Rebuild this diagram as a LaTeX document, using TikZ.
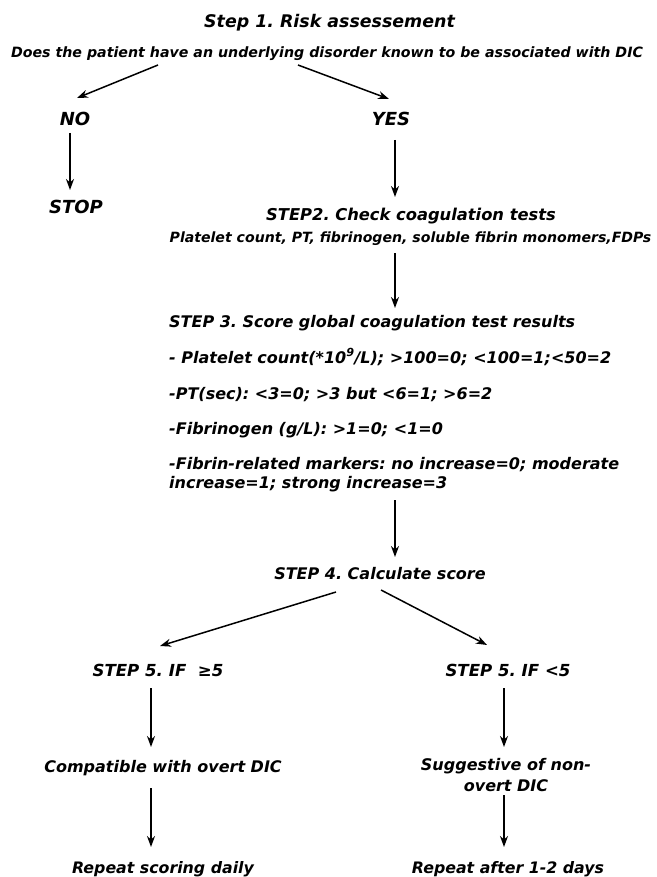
\documentclass[tikz,border=0pt]{standalone}
\usepackage{fontspec}
\setmainfont{DejaVu Sans}
\usetikzlibrary{arrows.meta}
\frenchspacing
\newcommand{\fsz}[1]{\fontsize{#1}{#1}\selectfont\bfseries\itshape}
\tikzset{
  txt/.style={inner sep=0pt, anchor=base, font=\fsz{16}},
  txtw/.style={inner sep=0pt, anchor=base west, font=\fsz{16}},
  arr/.style={line width=1.5pt, -{Stealth[length=11pt,width=8pt,inset=3.5pt]}}
}
\begin{document}
\begin{tikzpicture}[x=1pt,y=-1pt]
\path[use as bounding box] (0,0) rectangle (656,877);
% nodes
\node[txt, font=\fsz{17.4}] (s1) at (329.5,27.4) {Step 1. Risk assessement};
\node[txt, font=\fsz{14.2}] (does) at (327,57.2) {Does the patient have an underlying disorder known to be associated with DIC};
\node[txt, font=\fsz{18}] (no) at (75,125.6) {NO};
\node[txt, font=\fsz{18}] (yes) at (391,125.6) {YES};
\node[txt, font=\fsz{18}] (stop) at (76,213.6) {STOP};
\node[txt, font=\fsz{16.3}] (s2) at (411,221) {STEP2. Check coagulation tests};
\node[txt, font=\fsz{14.1}] (plt) at (410.5,242.1) {Platelet count, PT, fibrinogen, soluble fibrin monomers,FDPs};
\node[txtw] (s3h) at (169,327) {STEP 3. Score global coagulation test results};
\node[txtw] (l1) at (169,363) {- Platelet count(*10\textsuperscript{9}/L); >100=0; <100=1;<50=2};
\node[txtw] (l2) at (169,399) {-PT(sec): <3=0; >3 but <6=1; >6=2};
\node[txtw] (l3) at (169,434) {-Fibrinogen (g/L): >1=0; <1=0};
\node[txtw] (l4) at (169,469) {-Fibrin-related markers: no increase=0; moderate};
\node[txtw] (l5) at (169,488) {increase=1; strong increase=3};
\node[txt] (s4) at (380,579) {STEP 4. Calculate score};
\node[txt, font=\fsz{16.6}] (s5a) at (158,676) {STEP 5. IF\ \ ≥5};
\node[txt, font=\fsz{16.6}] (s5b) at (508,676) {STEP 5. IF <5};
\node[txt] (comp) at (163,772.8) {Compatible with overt DIC};
\node[txt] (sugg1) at (506,770) {Suggestive of non-};
\node[txt] (sugg2) at (506,791) {overt DIC};
\node[txt, font=\fsz{15.8}] (rep1) at (163,873.8) {Repeat scoring daily};
\node[txt, font=\fsz{15.8}] (rep2) at (508,873.8) {Repeat after 1-2 days};
% connectors
\draw[arr] ([shift={(-169,7.8)}]does.base) -- ([shift={(2,-27.6)}]no.base);
\draw[arr] ([shift={(-29,7.8)}]does.base) -- ([shift={(-2,-26.6)}]yes.base);
\draw[arr] ([shift={(-5,7.4)}]no.base) -- ([shift={(-6,-23.6)}]stop.base);
\draw[arr] ([shift={(4,14.4)}]yes.base) -- ([shift={(-16,-24)}]s2.base);
\draw[arr] ([shift={(-15.5,10.9)}]plt.base) -- ([shift={(226,-19)}]s3h.base west);
\draw[arr] ([shift={(226,12)}]l5.base west) -- ([shift={(15,-22)}]s4.base);
\draw[arr] ([shift={(-44,13)}]s4.base) -- ([shift={(2,-30)}]s5a.base);
\draw[arr] ([shift={(1,11)}]s4.base) -- ([shift={(-21,-31)}]s5b.base);
\draw[arr] ([shift={(-7,12)}]s5a.base) -- ([shift={(-12,-25.8)}]comp.base);
\draw[arr] ([shift={(-4,12)}]s5b.base) -- ([shift={(-2,-23)}]sugg1.base);
\draw[arr] ([shift={(-12,15.2)}]comp.base) -- ([shift={(-12,-26.8)}]rep1.base);
\draw[arr] ([shift={(-2,4)}]sugg2.base) -- ([shift={(-4,-26.8)}]rep2.base);
\end{tikzpicture}
\end{document}
